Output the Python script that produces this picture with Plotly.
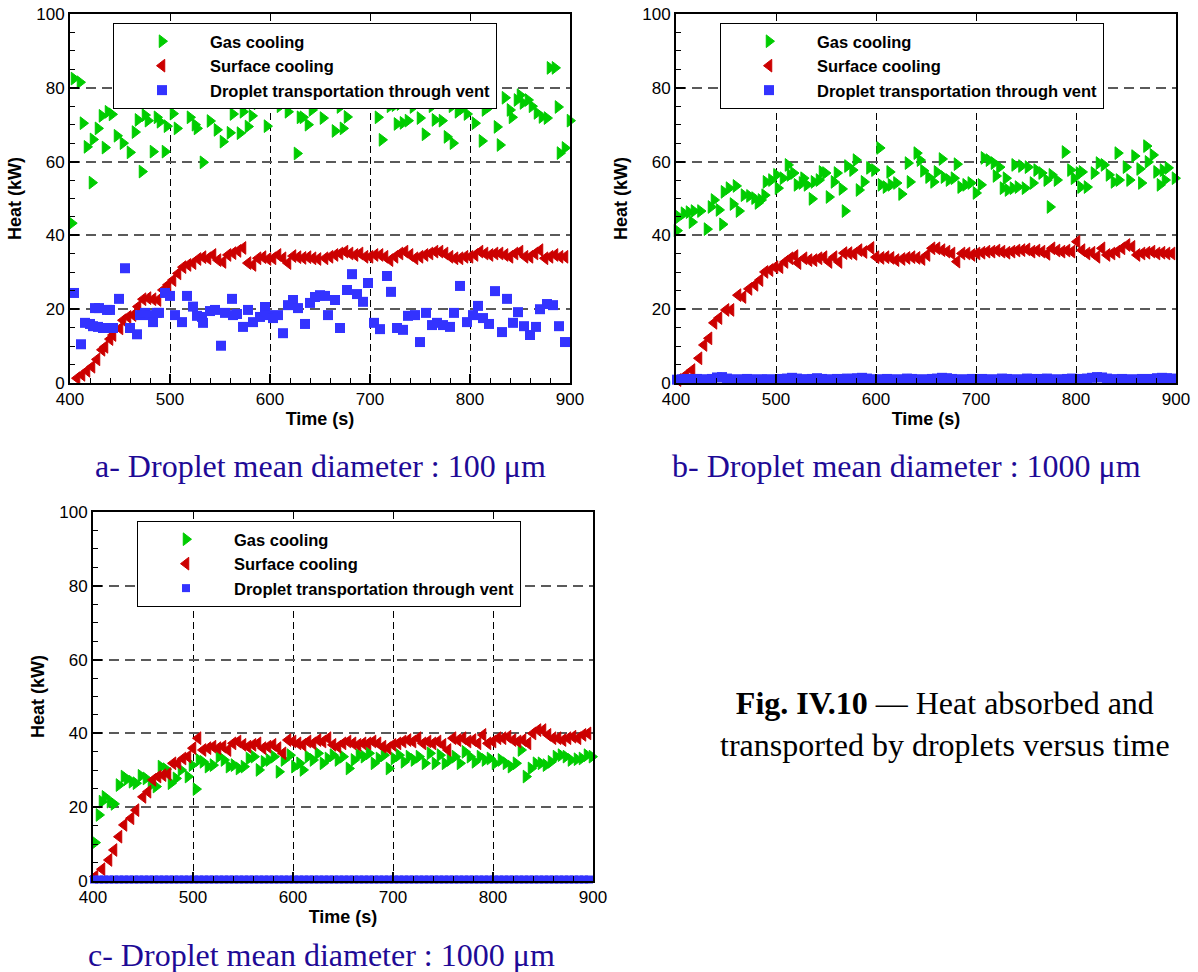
import plotly.graph_objects as go

# ---------------- data ----------------
# (a) droplet mean diameter 100 um
a_gas_t = [401.7,404,410,413,417,422,423,428,432,435, 438,442,447,453,460,465,468,472,475,478,
           483,487,490,495,497,503,507,513,520,525, 527,533,540,547,553,560,563,570,573,578,
           582,587,597,600,610,618,627,630,633,638, 642,644,653,665,670,673,677,693,708,712,
           720,725,727,730,733,738,743,750,755,762, 765,772,777,782,783,788,793,797,799,805,
           812,815,820,827,830,835,840,842,847,850, 853,858,862,867,872,877,880,885,888,890,
           895,900]
a_gas_q = [43.3,82.5,81.5,70.4,64,54.3,66,69,72.4,63.8, 73.5,72.8,67,65,62.5,68,71.3,57.3,72.6,71.1,
           62.7,72,70.8,62.7,69.6,73,69,76.7,72,70, 69,59.8,71,68.6,65.4,67.8,72.9,67.7,73.5,69.5,
           72.4,75.8,69.6,76.7,75,73.5,62.2,72,72,70, 74,77,71.8,68.3,74.8,69,72.1,76.2,72,65.9,
           75,75.3,70.2,75.6,70.5,71.1,74.8,71.8,67.4,75, 71.3,71.1,66.7,75,65,73.5,74.5,72.9,77,70.4,
           65.6,74,75,69.4,64.5,77.3,74,72,76.7,78, 75.9,76.7,75,73.2,72.1,71.8,85.4,85.4,74.8,62.3,
           63.7,71.1]

a_surf_t = [407,412,417,422,427,432,435,440,443,450, 453,458,463,468,473,478,483,488,493,498,
            503,508,513,518,523,528,533,538,543,548, 553,558,563,568,573,578,583,588,593,598,
            603,608,613,618,623,628,633,638,643,648,
            655,660,665,670,675,680,685,690,695,700, 705,710,715,720,725,730,735,740,745,750,
            755,760,765,770,775,780,785,790,795,800, 805,810,815,820,825,830,835,840,845,850,
            855,860,865,870,875,880,885,890,895]
a_surf_q = [1.3,2.2,3.3,4.4,6.4,9.0,9.8,11.9,13.0,14.8, 17.0,17.9,18.4,20.7,22.7,23.0,22.7,22.5,25.2,26.6,
            27.9,29.7,31.4,32.0,32.5,33.6,34.1,33.8,34.7,33.3, 32.8,34.7,35.2,35.8,36.6,32.5,32.0,33.8,34.1,33.6,
            33.8,34.7,33.8,32.5,34.4,34.1,33.9,34.1,33.8,33.6,
            33.8,34.2,34.7,35.1,35.6,35.1,34.7,35.1,34.2,34.2, 34.7,34.7,34.2,33.3,34.2,35.1,35.6,34.7,33.8,34.2,
            34.7,35.1,35.6,35.6,35.1,34.2,33.8,33.8,34.2,34.2, 34.7,35.6,35.1,34.7,35.1,35.1,34.7,34.2,35.1,35.6,
            34.2,34.2,35.1,36.0,33.8,34.2,34.7,34.2,34.2]

a_vent_t = [404,411,415,420,423,425,428,429,433,437, 438,440,443,449,455,460,467,470,475,480,
            483,487,489,495,500,505,512,517,523,527, 532,533,540,545,551,555,562,563,567,573,
            578,583,590,595,598,603,608,613,618,623, 628,635,640,645,650,655,658,665,670,677,
            682,687,693,698,704,710,717,721,727,733, 738,745,750,756,762,767,773,780,784,790,
            797,803,808,813,819,825,832,837,843,848, 854,860,866,870,877,883,889,895]
a_vent_q = [24.4,10.5,16.3,16,15.4,20.3,15.2,20.3,14.9,19.8, 14.9,19.8,14.9,22.8,31.1,14.9,13.2,18.4,19,18.4,
            16.5,19,19,24.4,23.6,18.4,16.5,23.6,20.7,18.2, 17.9,16.3,19.5,19.8,10.1,19,22.8,18.4,18.7,15.2,
            19.8,16.5,17.9,20.6,18.4,17.6,18.4,13.5,21.1,22.5, 20.3,16,21.7,23.3,23.8,23.6,18.4,22.5,14.9,25.2,
            29.5,24.1,22,27.1,16.3,14.6,29,24.7,14.9,14.4, 18.2,18.4,11.1,19,15.7,16.3,15.7,15.2,19,26.3,
            16.5,18.4,20.9,17.6,16,24.9,13.8,22.8,16.3,19.2, 15.4,13,15.2,20,21.4,21.1,15.4,11.1]

# (b) droplet mean diameter 1000 um
b_gas_t = [401,403,408,413,416,418,424.5,431,435,438, 443,446.5,448,453,457,460,463,468,473.5,478.6,
           482,485,488.7,490,495.5,500.5,502,507,512,514, 517.5,521,526,527.6,531,536,538,543,546,549.5,
           553,558,561,566,569,571.5,576.6,580,583,588, 593.5,598.5,603.6,605,610,613.7,615,620.5,625.6,632,
           634,640.8,644,647.5,652.6,657.6,661,666,668,673, 678,681,684.7,689.7,694.8,700,705,708,713,718,
           720,723.5,727,730,732,737,738.7,742,745.5,749, 752,757,760.7,765.7,770.8,774,775.9,781,789,794.5,
           798,803,804.6,806,811,818,823,828,833,838, 841.8,843,850,853.6,858.6,863.7,865.4,870.5,872,877,
           880.6,884,887,889,892,899]
b_gas_q = [41.3,45,46,46.3,43.6,46.6,46.6,41.7,47.7,49.6, 46.9,43,51.8,52.8,48.5,53.4,46.6,50.9,50.7,50.1,
           48.8,49.6,50.9,54.5,55,56.4,52.8,55.5,59.1,56.4, 56.9,53.7,54.2,55.5,53.7,49.9,54.5,55,57.2,56.9,
           50.4,54.5,56.9,52.6,46.6,58.8,57.7,60.4,52.3,54.5, 58.3,57.7,63.7,53.7,53.1,57.2,53.7,54.2,51.2,59.6,
           54.5,62.3,60.4,57.5,55.8,54.5,57.2,60.7,55.8,55, 55.5,59.3,53.1,53.7,54.2,51.5,53.7,61,60.4,59.6,
           56.1,58.5,52.8,55.5,52.3,52.8,59.1,53.1,58.8,52.8, 58.5,54.2,57.7,56.9,55,47.7,56.4,55,62.6,57.7,
           55.5,56.9,53.1,57.2,53.1,56.9,59.6,59.1,56.4,54.5, 62.3,55,58.5,55,61.5,58,54.2,64.2,59.9,61.8,
           57.2,53.7,57.7,55,58.3,55.5]

b_surf_t = [402,410,416,423,428,433,438,443,450,455, 462,467,473,479,484,489,494,499,504,509,
            514,519,522,528,533,538,543,548,553,558, 563,568,573,578,583,588,595,600,605,610,
            615,620,626,631,636,641,646,
            651,656,661,666,671,676,681,686,691,696, 701,706,711,716,721,726,731,736,741,746,
            751,756,761,766,771,776,781,786,791,796, 801,806,811,816,821,826,831,836,841,846,
            851,856,861,866,871,876,881,886,891,896]
b_surf_q = [0.8,2.2,3.5,6.7,10.3,12.1,16.3,17.6,19.8,19.8, 23.8,23.3,25.5,26.6,27.9,30.1,30.6,31.4,31.4,32.8,
            33.8,34.4,32.5,33.8,33.3,33.3,33.8,34.1,32.8,34.1, 32.8,35.2,35.2,35.0,36.0,35.5,36.6,34.1,33.9,34.1,
            33.9,33.3,33.6,33.9,34.1,33.9,33.6,
            34.7,36.5,36.5,36.0,35.6,35.1,32.9,35.1,35.1,34.7, 35.1,35.3,35.6,35.6,35.9,35.6,35.3,35.6,35.9,36.0,
            36.2,35.6,35.9,35.6,35.0,36.5,35.9,35.6,35.9,35.6, 38.3,36.0,35.1,35.3,34.2,36.5,34.7,35.1,35.6,36.5,
            37.4,36.9,34.7,35.1,35.3,35.6,35.1,35.3,35.1,35.1]

vent_t = [401,406,411,416,421,426,431,436,441,446, 451,456,461,466,471,476,481,486,491,496,
          501,506,511,516,521,526,531,536,541,546, 551,556,561,566,571,576,581,586,591,596,
          601,606,611,616,621,626,631,636,641,646, 651,656,661,666,671,676,681,686,691,696,
          701,706,711,716,721,726,731,736,741,746, 751,756,761,766,771,776,781,786,791,796,
          801,806,811,816,821,826,831,836,841,846, 851,856,861,866,871,876,881,886,891,896]
b_vent_q = [0.9,1.0,1.1,1.0,1.1,0.9,1.0,1.1,1.5,1.6, 1.2,1.0,0.9,1.0,1.1,1.0,0.9,1.0,1.0,0.9,
            1.0,1.1,1.2,1.4,1.2,1.0,1.0,1.1,1.3,1.1, 0.9,1.0,1.1,1.0,1.2,1.1,1.3,1.4,1.2,1.0,
            0.9,1.0,1.1,1.0,0.9,1.0,1.2,1.1,1.0,0.9, 1.0,1.1,1.2,1.4,1.3,1.1,1.0,0.9,1.0,1.1,
            1.0,1.1,1.0,0.9,1.0,1.2,1.1,1.0,0.9,1.0, 1.2,1.1,1.0,1.1,1.2,1.0,0.9,1.0,1.1,1.2,
            1.0,1.1,1.2,1.4,1.6,1.5,1.2,1.0,1.0,1.1, 1.0,0.9,1.0,1.1,1.0,1.1,1.3,1.4,1.3,1.2]

# (c) droplet mean diameter 1000 um
c_gas_t = [402,406,409,412,417,421,426,431,434,439, 443,448,453,458,463,468,473,478,483,488,
           495,499,503,506,510,515,520,526,531,536, 541,546,551,556,561,566,571,576,581,586,
           591,597,
           601.5,606.6,610,615,620,625,630,635,640,645, 650,656,661,666,671,676,681,686,691,696,
           701,706,711,716,721,726,732,737,742,747, 752,757,762,767,772,777,782,787,792,797,
           802,808,813,818,823,828,833,838,843,848, 853,858,863,868,873,878,884,889,894,899]
c_gas_q = [10.4,17.9,21.5,22.8,21.5,20.9,26,28.3,27.6,26.9, 26.5,28.5,27.8,26,25.6,31,30.3,26.5,27.8,30.1,
           28.3,31.4,24.9,32.8,32.3,31,31.4,33.7,32.8,31, 31.4,30.5,31,33.2,33.7,30.1,32.3,32.8,33.7,29.6,
           32.8,34.1,
           31.0,31.9,30.1,33.7,32.8,34.6,31.9,33.2,34.1,32.8, 33.7,30.5,32.8,34.1,33.7,34.6,31.9,33.2,34.1,30.5,
           33.2,34.1,32.3,33.7,32.8,33.7,31.9,34.6,31.9,34.1, 31.9,32.8,33.7,31.9,35.0,33.7,32.3,33.7,32.8,33.2,
           31.9,32.8,31.9,31.0,31.9,35.5,28.3,30.5,31.9,31.9, 31.4,32.3,33.7,34.1,33.7,32.8,33.0,33.2,34.1,33.7]

c_surf_t = [402,409,416,421,426,431,438,443,450,455, 460,465,470,475,480,485,490,495,500,505,
            510,515,520,525,530,535,540,545,550,555, 560,565,570,575,580,585,590,595,600,605,
            610,615,620,625,630,635,640,645,650,655, 660,665,670,675,680,685,690,695,700,705,
            710,715,720,725,730,735,740,745,750,755, 760,765,770,775,780,785,790,795,800,805,
            810,815,820,825,830,835,840,845,850,855, 860,865,870,875,880,885,890,895]
c_surf_q = [1.2,3.2,5.7,8.4,12.0,15.2,17.0,19.2,22.8,24.2, 27.4,28.3,28.7,29.0,31.9,31.9,33.2,33.7,36.0,38.7,
            35.5,36.0,36.4,36.0,36.4,35.5,37.3,37.8,36.9,36.4, 36.9,37.3,36.0,36.4,36.9,36.0,34.6,38.2,37.8,37.3,
            36.9,37.8,37.3,38.2,37.8,38.7,36.9,36.4,37.3,37.8, 37.3,36.9,37.3,37.3,37.8,37.3,36.4,36.0,36.9,37.3,
            37.8,38.2,37.8,38.7,37.3,37.8,37.3,37.8,36.9,35.5, 38.7,38.2,38.7,37.8,38.2,37.3,39.6,37.3,37.8,38.7,
            38.7,39.1,38.2,37.8,38.2,37.3,40.0,40.9,40.9,39.6, 38.7,38.7,38.2,38.7,39.1,38.7,39.6,40.0]

c_vent_q = [0.4,0.4,0.4,0.4,0.4,0.4,0.4,0.4,0.4,0.4, 0.4,0.4,0.4,0.4,0.4,0.4,0.4,0.4,0.4,0.4,
            0.4,0.4,0.4,0.4,0.4,0.4,0.4,0.4,0.4,0.4, 0.4,0.4,0.4,0.4,0.4,0.4,0.4,0.4,0.4,0.4,
            0.4,0.4,0.4,0.4,0.4,0.4,0.4,0.4,0.4,0.4, 0.4,0.4,0.4,0.4,0.4,0.4,0.4,0.4,0.4,0.4,
            0.4,0.4,0.4,0.4,0.4,0.4,0.4,0.4,0.4,0.4, 0.4,0.4,0.4,0.4,0.4,0.4,0.4,0.4,0.4,0.4,
            0.4,0.4,0.4,0.4,0.4,0.4,0.4,0.4,0.4,0.4, 0.4,0.4,0.4,0.4,0.4,0.4,0.4,0.4,0.4,0.4]

series_names = ["Gas cooling", "Surface cooling", "Droplet transportation through vent"]
panel_captions = ["a- Droplet mean diameter : 100 μm",
                  "b- Droplet mean diameter : 1000 μm",
                  "c- Droplet mean diameter : 1000 μm"]
fig_caption = "<b>Fig. IV.10</b> — Heat absorbed and<br>transported by droplets versus time"
x_title = "Time (s)"
y_title = "Heat (kW)"

# ---------------- styling ----------------
W, H = 1198, 972
GREEN, RED, BLUE = "#00cc00", "#cc0000", "#3333ff"
CAPTION_BLUE = "#1e0a96"
SANS = "Liberation Sans"
SERIF = "Liberation Serif"


def fx(px):
    return px / W


def fy(py):
    return 1 - py / H


def dom_x(x0, x1):
    return [fx(x0), fx(x1)]


def dom_y(top, bottom):
    return [fy(bottom), fy(top)]


panels = [
    dict(ax="", dx=dom_x(70, 570), dy=dom_y(14, 383), legend="legend",
         data=[(a_gas_t, a_gas_q), (a_surf_t, a_surf_q), (a_vent_t, a_vent_q)], vent_size=10),
    dict(ax="2", dx=dom_x(676, 1176), dy=dom_y(14, 383), legend="legend2",
         data=[(b_gas_t, b_gas_q), (b_surf_t, b_surf_q), (vent_t, b_vent_q)], vent_size=10),
    dict(ax="3", dx=dom_x(93, 593), dy=dom_y(512, 881), legend="legend3",
         data=[(c_gas_t, c_gas_q), (c_surf_t, c_surf_q), (vent_t, c_vent_q)], vent_size=8),
]

fig = go.Figure()
symbols = ["triangle-right", "triangle-left", "square"]
colors = [GREEN, RED, BLUE]

for p in panels:
    for k, (xs, ys) in enumerate(p["data"]):
        if k < 2:
            marker = dict(symbol=symbols[k], color=colors[k], size=11,
                          line=dict(width=1, color=colors[k]))
        else:
            marker = dict(symbol=symbols[k], color=colors[k], size=p["vent_size"], line=dict(width=0))
        fig.add_trace(go.Scatter(
            x=xs, y=ys, mode="markers", name=series_names[k], marker=marker,
            xaxis="x" + p["ax"], yaxis="y" + p["ax"], legend=p["legend"],
            cliponaxis=False, showlegend=True,
        ))

tickfont = dict(family=SANS, size=17, color="black")
titlefont = dict(family=SANS, size=18, color="black", weight="bold")

layout = dict(
    width=W, height=H, margin=dict(l=0, r=0, t=0, b=0),
    paper_bgcolor="white", plot_bgcolor="white", template="none",
    annotations=[],
)

for p in panels:
    ax = p["ax"]
    layout["xaxis" + ax] = dict(
        domain=p["dx"], anchor="y" + ax, range=[400, 900], tick0=400, dtick=100,
        showline=True, linecolor="black", linewidth=2, mirror=True,
        ticks="inside", ticklen=9, tickwidth=1.5, tickcolor="black", tickfont=tickfont,
        ticklabeloverflow="allow",
        showgrid=True, gridcolor="black", gridwidth=1, griddash="7px,4px", zeroline=False,
        minor=dict(dtick=20, ticks="inside", ticklen=5, tickwidth=1, tickcolor="black", showgrid=False),
        title=dict(text=x_title, font=titlefont, standoff=4), automargin=False,
    )
    layout["yaxis" + ax] = dict(
        domain=p["dy"], anchor="x" + ax, range=[0, 100], tick0=0, dtick=20,
        showline=True, linecolor="black", linewidth=2, mirror=True,
        ticks="inside", ticklen=9, tickwidth=1.5, tickcolor="black", tickfont=tickfont,
        ticklabeloverflow="allow",
        showgrid=True, gridcolor="#5a5a5a", gridwidth=1.5, griddash="10px,6px", zeroline=False,
        minor=dict(dtick=5, ticks="inside", ticklen=5, tickwidth=1, tickcolor="black", showgrid=False),
        title=dict(text=y_title, font=titlefont, standoff=10), automargin=False,
    )

legend_style = dict(
    xanchor="left", yanchor="top", bgcolor="white", bordercolor="black", borderwidth=1,
    font=dict(family=SANS, size=16.5, color="black", weight="bold"),
    itemwidth=86, traceorder="normal", tracegroupgap=0,
)
layout["legend"] = dict(legend_style, x=fx(113), y=fy(23))
layout["legend2"] = dict(legend_style, x=fx(720), y=fy(23))
layout["legend3"] = dict(legend_style, x=fx(137), y=fy(521))

cap_font = dict(family=SERIF, size=32, color=CAPTION_BLUE)
for text, cx, cy in zip(panel_captions, [320, 906, 321], [466, 466, 955]):
    layout["annotations"].append(dict(
        text=text, x=fx(cx), y=fy(cy), xref="paper", yref="paper",
        xanchor="center", yanchor="middle", showarrow=False, font=cap_font))
layout["annotations"].append(dict(
    text=fig_caption, x=fx(945), y=fy(724), xref="paper", yref="paper",
    xanchor="center", yanchor="middle", showarrow=False, align="center",
    font=dict(family=SERIF, size=32, color="black")))

fig.update_layout(**layout)
# remove the browser's default 8px page margin so the figure fills the window exactly
fig.write_html("out.html",
               config=dict(displayModeBar=False),
               post_script="document.body.style.margin='0px';"
                           "document.documentElement.style.overflow='hidden';")
